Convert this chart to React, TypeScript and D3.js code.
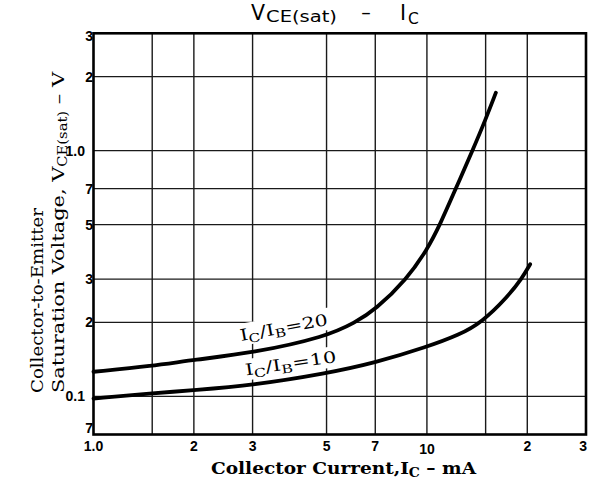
import React from "react";
import * as d3 from "d3";

// Collector current, mA (log axis)
const xGridValues = [1.5, 2, 3, 5, 7, 10, 15, 20];
const xTickValues = [1, 2, 3, 5, 7, 10, 20, 30];
const xTickLabels = ["1.0", "2", "3", "5", "7", "10", "2", "3"];

// Saturation voltage, V (log axis)
const yGridValues = [0.1, 0.2, 0.3, 0.5, 0.7, 1, 2];
const yTickValues = [3, 2, 1, 0.7, 0.5, 0.3, 0.2, 0.1, 0.07];
const yTickLabels = ["3", "2", "1.0", "7", "5", "3", "2", "0.1", "7"];

// IC/IB = 20
const ic20 = [1, 1.5, 2, 3, 5, 6.1, 7, 8.7, 10, 10.95, 12.2, 13.7, 15, 16.1];
const vce20 = [0.126, 0.133, 0.141, 0.15, 0.175, 0.2, 0.225, 0.3, 0.394, 0.5, 0.7, 1.0, 1.34, 1.72];

// IC/IB = 10
const ic10 = [1, 1.5, 2, 3, 5, 7, 10, 12.5, 14.6, 17.5, 19.3, 20.4];
const vce10 = [0.098, 0.103, 0.106, 0.111, 0.124, 0.137, 0.159, 0.178, 0.2, 0.255, 0.303, 0.345];

const W = 602;
const H = 485;
const plot = { left: 93.5, right: 586, top: 33.3, bottom: 434.5 };

const serif = "'DejaVu Serif', serif";
const sans = "'Liberation Sans', Arial, sans-serif";
const titleFont = "'DejaVu Sans', sans-serif";

const App: React.FC = () => {
  const x = d3.scaleLog().domain([1, 30]).range([plot.left, plot.right]);
  const y = d3.scaleLog().domain([0.07, 3]).range([plot.bottom, plot.top]);

  const line = d3
    .line<[number, number]>()
    .x((d) => x(d[0]))
    .y((d) => y(d[1]))
    .curve(d3.curveBasis);

  const series = [
    ic20.map((v, i) => [v, vce20[i]] as [number, number]),
    ic10.map((v, i) => [v, vce10[i]] as [number, number]),
  ];

  return (
    <svg
      width={W}
      height={H}
      style={{ position: "absolute", left: 0, top: 0, background: "#fff" }}
    >
      {/* title */}
      <g fill="#000" fontFamily={titleFont}>
        <text x={251} y={19.5} fontSize={20.5}>V</text>
        <text x={266} y={22} fontSize={15.5} textLength={71} lengthAdjust="spacingAndGlyphs">
          CE(sat)
        </text>
        <text x={366} y={19} fontSize={19} textAnchor="middle">–</text>
        <text x={400} y={19.5} fontSize={20.5}>I</text>
        <text x={408} y={23.5} fontSize={15.5}>C</text>
      </g>

      {/* grid */}
      <g stroke="#1a1a1a" strokeWidth={1.4}>
        {xGridValues.map((v) => (
          <line key={"gx" + v} x1={x(v)} x2={x(v)} y1={plot.top} y2={plot.bottom} />
        ))}
        {yGridValues.map((v) => (
          <line key={"gy" + v} x1={plot.left} x2={plot.right} y1={y(v)} y2={y(v)} />
        ))}
      </g>
      <rect
        x={plot.left}
        y={plot.top}
        width={plot.right - plot.left}
        height={plot.bottom - plot.top}
        fill="none"
        stroke="#000"
        strokeWidth={2.6}
      />

      {/* label knockouts */}
      <g fill="#fff">
        <rect x={-3} y={-17} width={118} height={22} transform="translate(241,341) rotate(-10.5)" />
        <rect x={-3} y={-16} width={100} height={21} transform="translate(246,375.5) rotate(-8.5)" />
      </g>

      {/* curves */}
      {series.map((s, i) => (
        <path
          key={"s" + i}
          d={line(s) || ""}
          fill="none"
          stroke="#000"
          strokeWidth={3.8}
          strokeLinecap="round"
        />
      ))}

      {/* curve labels */}
      <g fontFamily={serif} fontSize={16} fill="#000">
        <text transform="translate(241,341) rotate(-10.5)" textLength={89} lengthAdjust="spacingAndGlyphs">
          I<tspan fontSize={12} dy={3.5}>C</tspan>
          <tspan dy={-3.5}>/I</tspan>
          <tspan fontSize={12} dy={3.5}>B</tspan>
          <tspan dy={-3.5}>=20</tspan>
        </text>
        <text transform="translate(246,375.5) rotate(-8.5)" textLength={92} lengthAdjust="spacingAndGlyphs">
          I<tspan fontSize={12} dy={3.5}>C</tspan>
          <tspan dy={-3.5}>/I</tspan>
          <tspan fontSize={12} dy={3.5}>B</tspan>
          <tspan dy={-3.5}>=10</tspan>
        </text>
      </g>

      {/* y tick labels */}
      <g fontFamily={sans} fontWeight="bold" fontSize={14} fill="#000">
        {yTickValues.map((v, i) => {
          const label = yTickLabels[i];
          const shift = i === 0 ? 3 : i === yTickValues.length - 1 ? -6.5 : 0;
          return (
            <text
              key={"yt" + i}
              x={label.includes(".") ? 85 : 93}
              y={y(v) + 5 + shift}
              textAnchor="end"
            >
              {label}
            </text>
          );
        })}
      </g>

      {/* x tick labels */}
      <g fontFamily={sans} fontWeight="bold" fontSize={14} fill="#000">
        {xTickValues.map((v, i) => {
          const last = i === xTickValues.length - 1;
          return (
            <text
              key={"xt" + i}
              x={last ? x(v) + 1 : x(v)}
              y={v === 10 ? 454 : 451}
              textAnchor={last ? "end" : "middle"}
            >
              {xTickLabels[i]}
            </text>
          );
        })}
      </g>

      {/* x axis title */}
      <text
        x={211}
        y={473.5}
        fontFamily={serif}
        fontWeight="bold"
        fontSize={16}
        fill="#000"
        textLength={265}
        lengthAdjust="spacingAndGlyphs"
      >
        Collector Current,I<tspan fontSize={12} dy={3}>C</tspan>
        <tspan dy={-3}> – mA</tspan>
      </text>

      {/* y axis title */}
      <g fontFamily={serif} fontSize={17} fill="#000">
        <text
          transform="translate(43,393) rotate(-90)"
          textLength={185}
          lengthAdjust="spacingAndGlyphs"
        >
          Collector-to-Emitter
        </text>
        <text
          transform="translate(64,393) rotate(-90)"
          textLength={321}
          lengthAdjust="spacingAndGlyphs"
        >
          Saturation Voltage, V<tspan fontSize={12} dy={3}>CE(sat)</tspan>
          <tspan dy={-3}> – V</tspan>
        </text>
      </g>
    </svg>
  );
};

export default App;
